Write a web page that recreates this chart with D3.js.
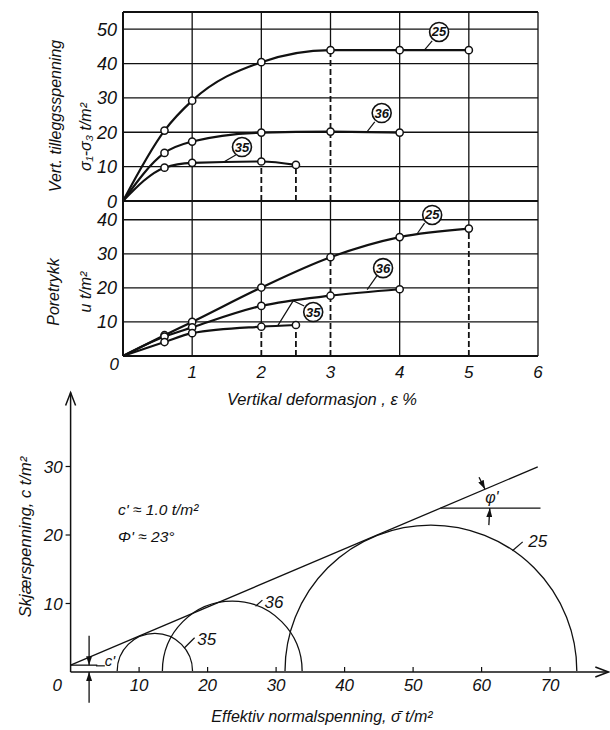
<!DOCTYPE html>
<html>
<head>
<meta charset="utf-8">
<script src="https://cdnjs.cloudflare.com/ajax/libs/d3/7.8.5/d3.min.js"></script>
<style>
body { margin: 0; background: #fff; }
text { font-family: "Liberation Sans", "DejaVu Sans", sans-serif; font-style: italic; fill: #111; }
</style>
</head>
<body>
<script>
// TOP CHART DATA (strain %, stress t/m2)
var strainTicks = [1, 2, 3, 4, 5, 6];
var devTicks = [0, 10, 20, 30, 40, 50];
var poreTicks = [10, 20, 30, 40];

var dev25 = [[0,0],[0.6,20.5],[1,29.2],[2,40.4],[3,43.9],[4,43.9],[5,43.9]];
var dev36 = [[0,0],[0.6,14.0],[1,17.3],[2,19.9],[3,20.2],[4,19.9]];
var dev35 = [[0,0],[0.6,9.7],[1,11.1],[2,11.5],[2.5,10.5]];

var pore25 = [[0,0],[0.6,6.1],[1,10.0],[2,20.1],[3,29.0],[4,34.9],[5,37.4]];
var pore36 = [[0,0],[0.6,5.7],[1,8.4],[2,14.7],[3,17.7],[4,19.6]];
var pore35 = [[0,0],[0.6,4.1],[1,6.7],[2,8.6],[2.5,9.1]];

// dashed drop lines [strain, value]
var devDrops = [[2,11.5],[2.5,10.5],[3,43.9]];
var poreDrops = [[2,8.6],[2.5,9.1],[3,29.0],[5,37.4]];

// MOHR DATA
var mohrNames = ["35", "36", "25"];
var sigma3 = [6.8, 13.4, 31.3];
var sigma1 = [17.8, 33.8, 73.9];
var cPrime = 1.0;
var phiPrime = 23;
var mohrXTicks = [10, 20, 30, 40, 50, 60, 70];
var mohrYTicks = [10, 20, 30];

var svg = d3.select("body").append("svg")
    .attr("width", 610)
    .attr("height", 730);

svg.append("defs").append("marker")
    .attr("id", "arr")
    .attr("markerUnits", "userSpaceOnUse")
    .attr("markerWidth", 9).attr("markerHeight", 6)
    .attr("refX", 9).attr("refY", 3)
    .attr("orient", "auto")
  .append("path")
    .attr("d", "M0,0L9,3L0,6Z")
    .attr("fill", "#111");

// SCALES
var x = d3.scaleLinear().domain([0, 6]).range([123, 538]);
var yU = d3.scaleLinear().domain([0, 55]).range([201, 12]);
var yL = d3.scaleLinear().domain([0, 45.5]).range([356, 201]);
var mx = d3.scaleLinear().domain([0, 70]).range([70.6, 550.1]);
var my = d3.scaleLinear().domain([0, 30]).range([672, 466.5]);

function seg(g, x1, y1, x2, y2, w) {
    return g.append("line")
        .attr("x1", x1).attr("y1", y1).attr("x2", x2).attr("y2", y2)
        .attr("stroke", "#111").attr("stroke-width", w || 1.3);
}

// PANEL GRID
function panel(y, top, hTicks, drops) {
    var g = svg.append("g");
    hTicks.forEach(function(v) {
        if (v > 0) seg(g, x(0), y(v), x(6), y(v), 1.3);
    });
    strainTicks.forEach(function(s) {
        var drop = drops.find(function(d) { return d[0] == s; });
        if (drop) {
            seg(g, x(s), y(drop[1]), x(s), y(top), 1.3);
        } else {
            seg(g, x(s), y(0), x(s), y(top), 1.3);
        }
    });
    drops.forEach(function(d) {
        seg(g, x(d[0]), y(0), x(d[0]), y(d[1]), 1.8)
            .attr("stroke-dasharray", "6,3");
    });
    seg(g, x(0), y(top), x(6), y(top), 1.8);
    seg(g, x(0), y(0), x(6), y(0), 2);
    seg(g, x(0), y(0), x(0), y(top), 2);
    return g;
}

panel(yU, 55, devTicks, devDrops);
panel(yL, 45.5, [0].concat(poreTicks), poreDrops);

function curves(y, list) {
    var line = d3.line()
        .x(function(d) { return x(d[0]); })
        .y(function(d) { return y(d[1]); })
        .curve(d3.curveMonotoneX);
    list.forEach(function(pts) {
        svg.append("path")
            .attr("d", line(pts))
            .attr("fill", "none")
            .attr("stroke", "#111")
            .attr("stroke-width", 2.2);
    });
    list.forEach(function(pts) {
        svg.append("g").selectAll("circle")
            .data(pts.slice(1))
            .enter().append("circle")
            .attr("cx", function(d) { return x(d[0]); })
            .attr("cy", function(d) { return y(d[1]); })
            .attr("r", 3.6)
            .attr("fill", "#fff")
            .attr("stroke", "#111")
            .attr("stroke-width", 1.5);
    });
}
curves(yU, [dev25, dev36, dev35]);
curves(yL, [pore25, pore36, pore35]);

// circled test numbers
function tag(y, name, at, leader) {
    var p = leader.map(function(d) { return [x(d[0]), y(d[1])]; });
    svg.append("path")
        .attr("d", d3.line()(p))
        .attr("fill", "none").attr("stroke", "#111").attr("stroke-width", 1.2);
    svg.append("circle")
        .attr("cx", x(at[0])).attr("cy", y(at[1])).attr("r", 9.5)
        .attr("fill", "#fff").attr("stroke", "#111").attr("stroke-width", 1.6);
    svg.append("text")
        .attr("x", x(at[0])).attr("y", y(at[1]) + 4.5)
        .attr("text-anchor", "middle")
        .attr("font-size", 13).attr("font-weight", "bold")
        .text(name);
}
tag(yU, "25", [4.57, 49.2], [[4.47,46.6],[4.36,44.0]]);
tag(yU, "36", [3.74, 25.6], [[3.64,23.0],[3.53,20.2]]);
tag(yU, "35", [1.72, 15.7], [[1.63,13.4],[1.45,11.3]]);
tag(yL, "25", [4.47, 41.4], [[4.36,39.0],[4.26,36.1]]);
tag(yL, "36", [3.76, 25.8], [[3.67,23.5],[3.53,19.5]]);
tag(yL, "35", [2.75, 12.9], [[2.62,14.7],[2.46,16.2],[2.24,9.0]]);

// TICK LABELS
svg.append("g").selectAll("text")
    .data(devTicks).enter().append("text")
    .attr("x", 117).attr("y", function(d) { return yU(d) + 6.5; })
    .attr("text-anchor", "end").attr("font-size", 18)
    .text(function(d) { return d; });
svg.append("g").selectAll("text")
    .data(poreTicks).enter().append("text")
    .attr("x", 117).attr("y", function(d) { return yL(d) + 6.5; })
    .attr("text-anchor", "end").attr("font-size", 18)
    .text(function(d) { return d; });
svg.append("text").attr("x", 119).attr("y", yL(0) + 14)
    .attr("text-anchor", "end").attr("font-size", 17).text("0");
svg.append("g").selectAll("text")
    .data(strainTicks).enter().append("text")
    .attr("x", function(d) { return x(d); }).attr("y", yL(0) + 22)
    .attr("text-anchor", "middle").attr("font-size", 17)
    .text(function(d) { return d; });

function vlabel(cx, cy, size, str) {
    svg.append("text")
        .attr("transform", "translate(" + cx + "," + cy + ") rotate(-90)")
        .attr("text-anchor", "middle").attr("font-size", size)
        .text(str);
}
vlabel(61, 116, 16, "Vert. tilleggsspenning");
vlabel(91, 137, 16, "σ₁-σ₃  t/m²");
vlabel(59, 292, 16, "Poretrykk");
vlabel(91, 292, 16, "u t/m²");
svg.append("text").attr("x", 322).attr("y", 405)
    .attr("text-anchor", "middle").attr("font-size", 16.5)
    .text("Vertikal  deformasjon , ε %");

// MOHR DIAGRAM
var mg = svg.append("g");
seg(mg, mx(0), my(0), mx(78.5), my(0), 1.5);
seg(mg, mx(0), my(0), mx(0), my(40.8), 1.5);
mg.append("polyline")
    .attr("points", [[mx(78.5) - 13, my(0) - 5], [mx(78.5), my(0)], [mx(78.5) - 13, my(0) + 5]].join(" "))
    .attr("fill", "none").attr("stroke", "#111").attr("stroke-width", 1.5);
mg.append("polyline")
    .attr("points", [[mx(0) - 5, my(40.8) + 13], [mx(0), my(40.8)], [mx(0) + 5, my(40.8) + 13]].join(" "))
    .attr("fill", "none").attr("stroke", "#111").attr("stroke-width", 1.5);

mohrXTicks.forEach(function(v) {
    seg(mg, mx(v), my(0), mx(v), my(0) - 5, 1.2);
    mg.append("text").attr("x", mx(v)).attr("y", my(0) + 19)
        .attr("text-anchor", "middle").attr("font-size", 17).text(v);
});
mohrYTicks.forEach(function(v) {
    seg(mg, mx(0), my(v), mx(0) - 5, my(v), 1.2);
    mg.append("text").attr("x", mx(0) - 8).attr("y", my(v) + 6)
        .attr("text-anchor", "end").attr("font-size", 17).text(v);
});
mg.append("text").attr("x", 62).attr("y", my(0) + 19)
    .attr("text-anchor", "end").attr("font-size", 17).text("0");

// circles
sigma3.forEach(function(s3, i) {
    var cx = (mx(s3) + mx(sigma1[i])) / 2;
    var r = (mx(sigma1[i]) - mx(s3)) / 2;
    var p = d3.path();
    p.arc(cx, my(0) - 1, r, Math.PI, 2 * Math.PI);
    mg.append("path").attr("d", p.toString())
        .attr("fill", "none").attr("stroke", "#111").attr("stroke-width", 1.3);
});

// envelope
var tanPhi = Math.tan(phiPrime * Math.PI / 180);
var env = function(s) { return cPrime + s * tanPhi; };
seg(mg, mx(0), my(env(0)), mx(68.2), my(env(68.2)), 1.3);
seg(mg, mx(54), my(env(54)), mx(68.6), my(env(54)), 1.3);

// phi' arrows
seg(mg, mx(60.5) - 6, my(env(60.5)) - 12, mx(60.5), my(env(60.5)), 1.3).attr("marker-end", "url(#arr)");
seg(mg, mx(61.2) - 1, my(env(54)) + 17, mx(61.2), my(env(54)), 1.3).attr("marker-end", "url(#arr)");
mg.append("text").attr("x", mx(61.5)).attr("y", my(env(54)) - 5)
    .attr("text-anchor", "middle").attr("font-size", 16).text("φ'");

// c' marker
seg(mg, mx(0), my(cPrime), mx(3.9), my(cPrime), 1.3);
seg(mg, mx(2.7), my(5.3), mx(2.7), my(cPrime), 1.3).attr("marker-end", "url(#arr)");
seg(mg, mx(2.7), my(-4.5), mx(2.7), my(0), 1.3).attr("marker-end", "url(#arr)");
seg(mg, mx(3.7), my(0.9), mx(5.0), my(0.9), 1.2);
mg.append("text").attr("x", mx(5.0)).attr("y", my(cPrime) + 1)
    .attr("font-size", 15).text("c'");

// circle labels
var mohrLabels = [[16.6, 3.5, 18.1, 5.0, 18.5, 3.9],
                  [27.0, 9.6, 28.0, 10.5, 28.3, 9.4],
                  [64.5, 17.7, 66.0, 19.0, 66.8, 18.2]];
mohrLabels.forEach(function(d, i) {
    seg(mg, mx(d[0]), my(d[1]), mx(d[2]), my(d[3]), 1.2);
    mg.append("text").attr("x", mx(d[4])).attr("y", my(d[5]))
        .attr("font-size", 17).text(mohrNames[i]);
});

mg.append("text").attr("x", 118).attr("y", 515)
    .attr("font-size", 15.5).text("c' ≈ 1.0 t/m²");
mg.append("text").attr("x", 118).attr("y", 542)
    .attr("font-size", 15.5).text("Φ' ≈ " + phiPrime + "°");

vlabel(31, 537, 16.5, "Skjærspenning, c t/m²");
svg.append("text").attr("x", 322).attr("y", 722)
    .attr("text-anchor", "middle").attr("font-size", 16)
    .text("Effektiv  normalspenning, σ̄   t/m²");
</script>
</body>
</html>
